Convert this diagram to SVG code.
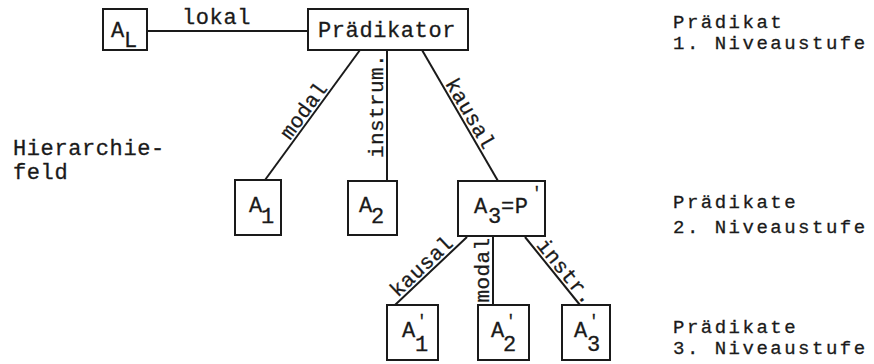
<svg xmlns="http://www.w3.org/2000/svg" width="874" height="364" viewBox="0 0 874 364">
<style>
  .bg { fill: #ffffff; }
  .box { fill: none; stroke: #1a1a1a; stroke-width: 2; }
  .ln { stroke: #1a1a1a; stroke-width: 2; fill: none; }
  text { font-family: "Liberation Mono", "Courier New", monospace; font-size: 22px; fill: #1a1a1a; stroke: #1a1a1a; stroke-width: 0.3; letter-spacing: 0.6px; }
  .lbl { font-size: 21px; letter-spacing: 0.4px; text-anchor: middle; }
  .side { font-size: 19px; letter-spacing: 2.5px; }
  .pr { font-size: 16px; }
</style>
<rect class="bg" x="0" y="0" width="874" height="364"/>

<g id="connectors">
  <line class="ln" x1="147" y1="31" x2="308" y2="31"/>
  <line class="ln" x1="360" y1="50" x2="265" y2="180"/>
  <line class="ln" x1="387" y1="50" x2="387" y2="181"/>
  <line class="ln" x1="422" y1="50" x2="498" y2="181"/>
  <line class="ln" x1="467" y1="237" x2="395" y2="305"/>
  <line class="ln" x1="493" y1="236" x2="493" y2="305"/>
  <line class="ln" x1="525" y1="237" x2="580" y2="305"/>
  <text x="182" y="24">lokal</text>
  <text class="lbl" transform="translate(309.2,114.4) rotate(-53.8)">modal</text>
  <text class="lbl" transform="translate(383,106) rotate(-90)">instrum.</text>
  <text class="lbl" transform="translate(464.4,117) rotate(59.9)">kausal</text>
  <text class="lbl" transform="translate(426.2,271.3) rotate(-43.4)">kausal</text>
  <text class="lbl" transform="translate(489,270) rotate(-90)">modal</text>
  <text class="lbl" transform="translate(560.3,275.8) rotate(51)">instr.</text>
</g>

<g id="node-AL">
  <rect class="box" x="103" y="9" width="44" height="41"/>
  <text x="111" y="37">A</text>
  <text x="124" y="47">L</text>
</g>

<g id="node-praedikator">
  <rect class="box" x="308" y="9" width="160" height="41"/>
  <text x="318" y="37">Prädikator</text>
</g>

<g id="node-A1">
  <rect class="box" x="235" y="180" width="46" height="55"/>
  <text x="249" y="212">A</text>
  <text x="261" y="223">1</text>
</g>

<g id="node-A2">
  <rect class="box" x="348" y="181" width="49" height="54"/>
  <text x="359" y="212">A</text>
  <text x="371" y="223">2</text>
</g>

<g id="node-A3">
  <rect class="box" x="458" y="181" width="87" height="55"/>
  <text x="474" y="213">A</text>
  <text x="488" y="223">3</text>
  <text x="501" y="213">=P</text>
  <text class="pr" x="532" y="198">'</text>
</g>

<g id="node-A1p">
  <rect class="box" x="387" y="305" width="51" height="55"/>
  <text x="402" y="337">A</text>
  <text class="pr" x="417" y="326">'</text>
  <text x="415" y="351">1</text>
</g>

<g id="node-A2p">
  <rect class="box" x="478" y="305" width="51" height="55"/>
  <text x="491" y="337">A</text>
  <text class="pr" x="506" y="326">'</text>
  <text x="503" y="351">2</text>
</g>

<g id="node-A3p">
  <rect class="box" x="562" y="305" width="48" height="55"/>
  <text x="574" y="337">A</text>
  <text class="pr" x="589" y="326">'</text>
  <text x="587" y="351">3</text>
</g>

<g id="side-labels">
  <text x="13" y="155">Hierarchie-</text>
  <text x="13" y="179">feld</text>
  <text class="side" x="673" y="28">Prädikat</text>
  <text class="side" x="673" y="49">1. Niveaustufe</text>
  <text class="side" x="673" y="208">Prädikate</text>
  <text class="side" x="673" y="233">2. Niveaustufe</text>
  <text class="side" x="673" y="333">Prädikate</text>
  <text class="side" x="673" y="354">3. Niveaustufe</text>
</g>
</svg>
